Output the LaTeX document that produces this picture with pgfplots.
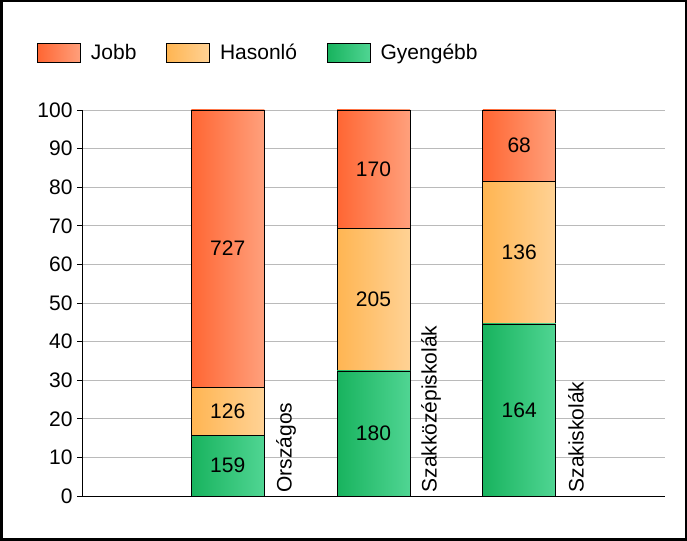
\documentclass[border=0pt]{standalone}
\usepackage{fontspec}
\setmainfont{Liberation Sans}
\usepackage{pgfplots}
\pgfplotsset{compat=1.18}

\definecolor{jobbL}{HTML}{FF6633}
\definecolor{jobbR}{HTML}{FFA07C}
\definecolor{hasL}{HTML}{FFB552}
\definecolor{hasR}{HTML}{FFD295}
\definecolor{gyeL}{HTML}{18B35E}
\definecolor{gyeR}{HTML}{50D593}

\newcommand{\chartfont}{\fontsize{21bp}{24bp}\selectfont}

% one bar segment; drawn from 0 up to its cumulative top, later segments cover the lower part
\pgfplotsset{
    seg/.style={ybar, bar width=73bp, bar shift=0pt, draw=black, line width=0.6pt},
    jobb/.style={seg, left color=jobbL, right color=jobbR},
    has/.style={seg, left color=hasL, right color=hasR},
    gye/.style={seg, left color=gyeL, right color=gyeR},
}

\begin{document}
\begin{tikzpicture}
\useasboundingbox (0,0) rectangle (687bp,541bp);
\fill[white] (0,0) rectangle (687bp,541bp);
\draw[line width=2.5bp] (1.25bp,1.25bp) rectangle (685.75bp,539.75bp);
\begin{axis}[
    at={(82bp,45bp)}, anchor=south west,
    scale only axis, width=583bp, height=386bp,
    xmin=0, xmax=4, ymin=0, ymax=100,
    xtick=\empty,
    ytick={0,10,...,100},
    axis x line*=bottom, axis y line*=left,
    ymajorgrids, grid style={color=black!27, line width=0.6pt},
    tick align=outside, major tick length=5bp,
    tick style={black, line width=0.8pt},
    axis line style={line width=0.8pt},
    /pgf/number format/assume math mode=true,
    yticklabel style={font=\chartfont, xshift=-1bp},
    legend columns=3,
    legend style={at={(-0.077,1.148)}, anchor=west, draw=none, fill=none,
        font=\chartfont, inner sep=0pt,
        /tikz/every odd column/.append style={column sep=8bp},
        /tikz/every even column/.append style={column sep=28bp}},
    legend image code/.code={\draw[#1, draw=black, line width=0.6pt] (0bp,-9.5bp) rectangle (43bp,9.5bp);},
]
% Jobb: top segment (cumulative top = 100)
\addplot[jobb] coordinates {(1,100)};
\addlegendentry{Jobb}
\addplot[jobb, forget plot] coordinates {(2,100)};
\addplot[jobb, forget plot] coordinates {(3,100)};
% Hasonló: cumulative top = Gyengébb + Hasonló share
\addplot[has] coordinates {(1,28.162)};
\addlegendentry{Hasonló}
\addplot[has, forget plot] coordinates {(2,69.369)};
\addplot[has, forget plot] coordinates {(3,81.522)};
% Gyengébb
\addplot[gye] coordinates {(1,15.711)};
\addlegendentry{Gyengébb}
\addplot[gye, forget plot] coordinates {(2,32.432)};
\addplot[gye, forget plot] coordinates {(3,44.565)};

% counts, at the middle of each segment
\addplot[draw=none, mark=none, forget plot, point meta=explicit symbolic,
    nodes near coords, every node near coord/.style={anchor=center, font=\chartfont}]
    coordinates {
        (1,7.856) [159] (1,21.936) [126] (1,64.081) [727]
        (2,16.216) [180] (2,50.901) [205] (2,84.685) [170]
        (3,22.283) [164] (3,63.043) [136] (3,90.761) [68]
    };

\node[rotate=90, anchor=west, font=\chartfont] at (axis cs:1.40,0) {Országos};
\node[rotate=90, anchor=west, font=\chartfont] at (axis cs:2.395,0) {Szakközépiskolák};
\node[rotate=90, anchor=west, font=\chartfont] at (axis cs:3.39,0) {Szakiskolák};
\end{axis}
\end{tikzpicture}
\end{document}
